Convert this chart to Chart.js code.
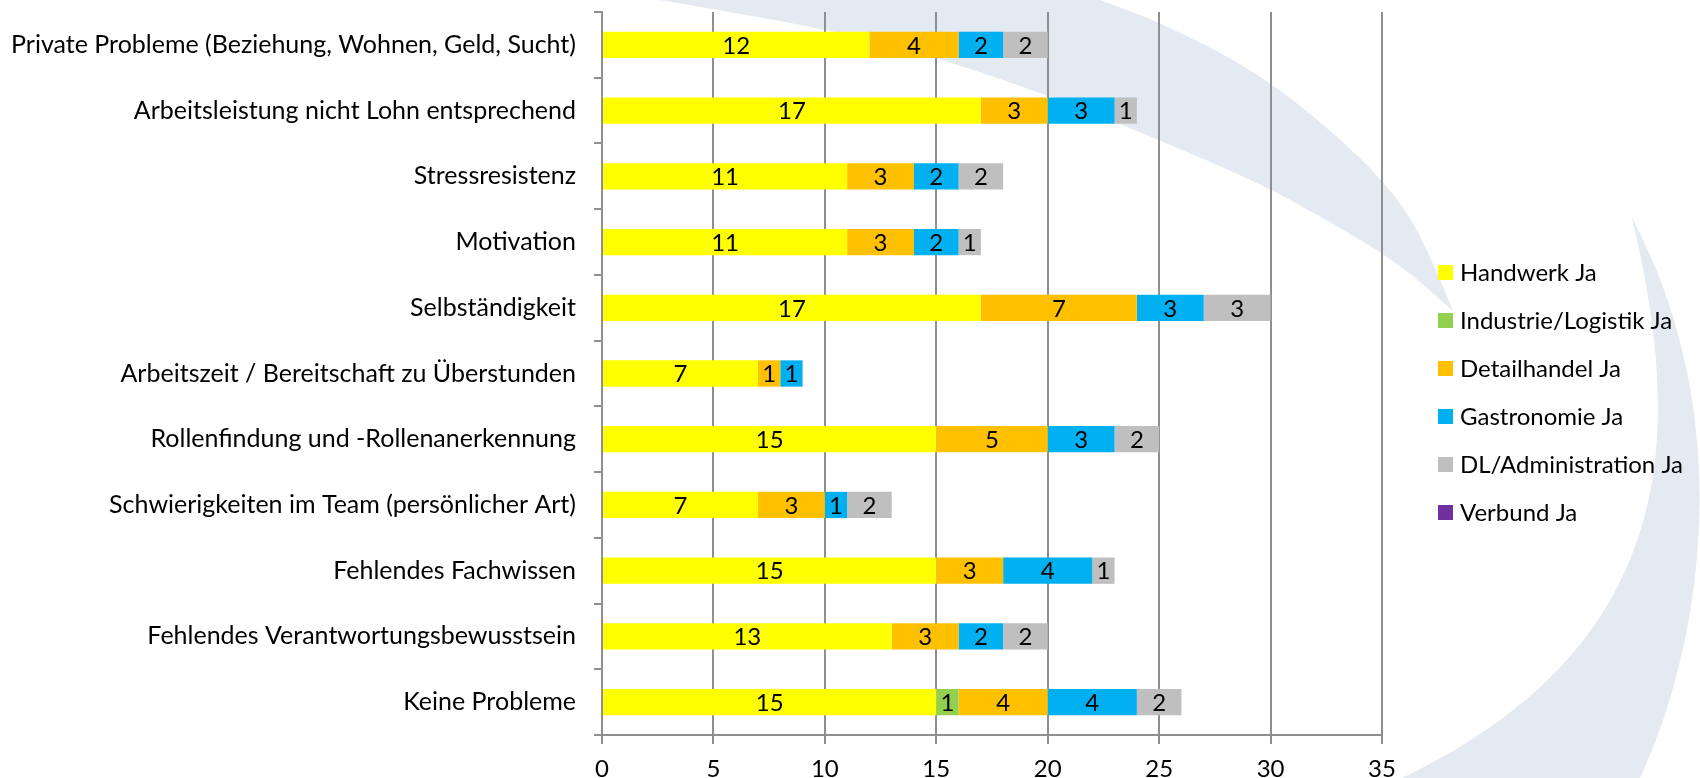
<!DOCTYPE html>
<html lang="de">
<head>
    <meta charset="UTF-8">
    <title>Probleme nach Branche</title>
    <script src="https://cdn.jsdelivr.net/npm/chart.js"></script>
    <style>
        body {
            margin: 0;
            background: #ffffff;
        }
        canvas {
            display: block;
        }
    </style>
</head>
<body>
    <canvas id="chart" width="1700" height="778"></canvas>

    <script>
        // Kategorien (von oben nach unten)
        const categories = [
            'Private Probleme (Beziehung, Wohnen, Geld, Sucht)',
            'Arbeitsleistung nicht Lohn entsprechend',
            'Stressresistenz',
            'Motivation',
            'Selbständigkeit',
            'Arbeitszeit / Bereitschaft zu Überstunden',
            'Rollenfindung und -Rollenanerkennung',
            'Schwierigkeiten im Team (persönlicher Art)',
            'Fehlendes Fachwissen',
            'Fehlendes Verantwortungsbewusstsein',
            'Keine Probleme'
        ];

        const handwerk     = [12, 17, 11, 11, 17, 7, 15, 7, 15, 13, 15];
        const industrie    = [0, 0, 0, 0, 0, 0, 0, 0, 0, 0, 1];
        const detailhandel = [4, 3, 3, 3, 7, 1, 5, 3, 3, 3, 4];
        const gastronomie  = [2, 3, 2, 2, 3, 1, 3, 1, 4, 2, 4];
        const dlAdmin      = [2, 1, 2, 1, 3, 0, 2, 2, 1, 2, 2];
        const verbund      = [0, 0, 0, 0, 0, 0, 0, 0, 0, 0, 0];

        const xMin = 0, xMax = 35, xStep = 5;

        const FONT = 'Lato';
        const gridGray = '#8f8f8f';

        // smooth path through a list of points (midpoint quadratic curves)
        function smoothThrough(ctx, pts) {
            ctx.lineTo(pts[0][0], pts[0][1]);
            for (let i = 1; i < pts.length - 1; i++) {
                const mx = (pts[i][0] + pts[i + 1][0]) / 2;
                const my = (pts[i][1] + pts[i + 1][1]) / 2;
                ctx.quadraticCurveTo(pts[i][0], pts[i][1], mx, my);
            }
            const last = pts[pts.length - 1];
            ctx.lineTo(last[0], last[1]);
        }

        // hellblauer Hintergrund-Schwung
        const swooshPlugin = {
            id: 'swoosh',
            beforeDraw(chart) {
                const ctx = chart.ctx;
                ctx.save();
                ctx.fillStyle = '#e4eaf2';
                ctx.beginPath();
                ctx.moveTo(660, 0);
                smoothThrough(ctx, [[660, 0], [790, 22], [900, 46], [1043, 93], [1150, 136],
                    [1257, 182], [1329, 221], [1400, 264], [1453, 311]]);
                smoothThrough(ctx, [[1453, 311], [1428, 250], [1400, 200], [1346, 143],
                    [1257, 71], [1157, 21], [1100, 0]]);
                ctx.closePath();
                ctx.fill();

                ctx.beginPath();
                ctx.moveTo(1632, 218);
                ctx.bezierCurveTo(1680, 420, 1690, 640, 1402, 778);
                ctx.lineTo(1640, 778);
                ctx.bezierCurveTo(1700, 650, 1740, 420, 1632, 218);
                ctx.closePath();
                ctx.fill();
                ctx.restore();
            }
        };

        // Werte in den Balken
        const valueLabels = {
            id: 'valueLabels',
            afterDatasetsDraw(chart) {
                const ctx = chart.ctx;
                ctx.save();
                ctx.font = '24px ' + FONT;
                ctx.fillStyle = '#000';
                ctx.textAlign = 'center';
                ctx.textBaseline = 'middle';
                chart.data.datasets.forEach((ds, i) => {
                    const meta = chart.getDatasetMeta(i);
                    meta.data.forEach((bar, j) => {
                        const v = ds.data[j];
                        if (!v) return;
                        ctx.fillText(String(v), (bar.x + bar.base) / 2, bar.y + 1);
                    });
                });
                ctx.restore();
            }
        };

        // Legende rechts
        const sideLegend = {
            id: 'sideLegend',
            afterDraw(chart) {
                const ctx = chart.ctx;
                ctx.save();
                ctx.font = '24px ' + FONT;
                ctx.textAlign = 'left';
                ctx.textBaseline = 'middle';
                chart.data.datasets.forEach((ds, i) => {
                    const y = 272 + i * 48;
                    ctx.fillStyle = ds.backgroundColor;
                    ctx.fillRect(1438, y - 7, 15, 15);
                    ctx.fillStyle = '#000';
                    ctx.fillText(ds.label, 1460, y + 1);
                });
                ctx.restore();
            }
        };

        const mk = (label, data, color) => ({
            label: label,
            data: data,
            backgroundColor: color,
            borderWidth: 0,
            barPercentage: 0.4,
            categoryPercentage: 1
        });

        new Chart(document.getElementById('chart').getContext('2d'), {
            type: 'bar',
            data: {
                labels: categories,
                datasets: [
                    mk('Handwerk Ja', handwerk, '#ffff00'),
                    mk('Industrie/Logistik Ja', industrie, '#92d050'),
                    mk('Detailhandel Ja', detailhandel, '#ffc000'),
                    mk('Gastronomie Ja', gastronomie, '#00b0f0'),
                    mk('DL/Administration Ja', dlAdmin, '#bfbfbf'),
                    mk('Verbund Ja', verbund, '#7030a0')
                ]
            },
            options: {
                indexAxis: 'y',
                responsive: false,
                animation: false,
                layout: {
                    padding: { left: 0, right: 318, top: 12, bottom: 0 }
                },
                scales: {
                    x: {
                        stacked: true,
                        min: xMin,
                        max: xMax,
                        ticks: {
                            stepSize: xStep,
                            color: '#000',
                            padding: 11,
                            font: { family: FONT, size: 24 }
                        },
                        grid: {
                            color: gridGray,
                            lineWidth: 2,
                            tickLength: 9
                        },
                        border: { color: gridGray, width: 2 },
                        afterFit(scale) {
                            scale.height = 43;
                            scale.paddingLeft = 0;
                            scale.paddingRight = 0;
                        }
                    },
                    y: {
                        stacked: true,
                        ticks: {
                            color: '#000',
                            padding: 18,
                            font: { family: FONT, size: 25 }
                        },
                        grid: {
                            drawOnChartArea: false,
                            color: gridGray,
                            lineWidth: 2,
                            tickLength: 8
                        },
                        border: { color: gridGray, width: 2 },
                        afterFit(scale) {
                            scale.width = 602;
                            scale.paddingTop = 0;
                            scale.paddingBottom = 0;
                        }
                    }
                },
                plugins: {
                    legend: { display: false },
                    tooltip: { enabled: false }
                }
            },
            plugins: [swooshPlugin, valueLabels, sideLegend]
        });
    </script>
</body>
</html>
